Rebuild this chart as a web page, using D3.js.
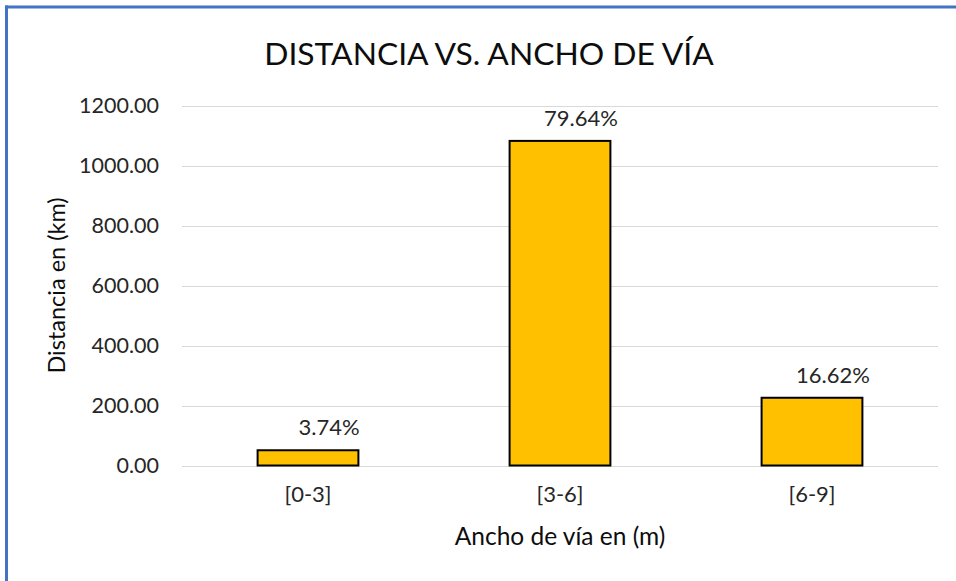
<!DOCTYPE html>
<html>
<head>
<meta charset="utf-8">
<script src="https://cdn.jsdelivr.net/npm/d3@7"></script>
<style>
  html, body { margin: 0; padding: 0; background: #fff; }
  svg { display: block; }
  text { font-family: Lato, "Open Sans", sans-serif; }
</style>
</head>
<body>
<svg id="chart" width="956" height="581"></svg>
<script>
const categories = ["[0-3]", "[3-6]", "[6-9]"];
const distances = [50.8, 1082, 225.8];
const percentLabels = ["3.74%", "79.64%", "16.62%"];
const yTicks = [0, 200, 400, 600, 800, 1000, 1200];
const titleText = "DISTANCIA VS. ANCHO DE VÍA";
const xTitle = "Ancho de vía en (m)";
const yTitle = "Distancia en (km)";

const svg = d3.select("#chart");
const W = 956, H = 581;
const plot = { left: 182, right: 938, top: 105.5, bottom: 465.5 };

// frame (top and left border visible)
svg.append("rect").attr("x", 0).attr("y", 0).attr("width", W).attr("height", H).attr("fill", "#fff");
svg.append("line").attr("x1", 5).attr("x2", W).attr("y1", 7).attr("y2", 7)
  .attr("stroke", "#4472C4").attr("stroke-width", 3);
svg.append("line").attr("x1", 6.5).attr("x2", 6.5).attr("y1", 5.5).attr("y2", H)
  .attr("stroke", "#4472C4").attr("stroke-width", 3);

const x = d3.scaleBand().domain(categories).range([plot.left, plot.right])
  .paddingInner(0.6).paddingOuter(0.3);
const y = d3.scaleLinear().domain([0, 1200]).range([plot.bottom, plot.top]);

// gridlines
svg.append("g").selectAll("line").data(yTicks).join("line")
  .attr("x1", plot.left).attr("x2", plot.right)
  .attr("y1", d => Math.round(y(d)) + 0.5).attr("y2", d => Math.round(y(d)) + 0.5)
  .attr("stroke", "#d9d9d9").attr("stroke-width", 1.2);

// y axis labels
const yAxis = d3.axisLeft(y).tickValues(yTicks).tickFormat(d3.format(".2f")).tickSize(0).tickPadding(23);
const gy = svg.append("g").attr("transform", `translate(${plot.left},0)`).call(yAxis);
gy.select(".domain").remove();
gy.selectAll("text").attr("font-family", "Lato").attr("font-size", 21.5).attr("fill", "#262626");

// bars
svg.append("g").selectAll("rect").data(categories).join("rect")
  .attr("x", d => x(d)).attr("width", x.bandwidth())
  .attr("y", (d, i) => y(distances[i]))
  .attr("height", (d, i) => y(0) - y(distances[i]))
  .attr("fill", "#FFC000").attr("stroke", "#000").attr("stroke-width", 2);

// value labels
svg.append("g").selectAll("text").data(categories).join("text")
  .attr("x", d => x(d) + x.bandwidth() / 2 + 21)
  .attr("y", (d, i) => y(distances[i]) - 15)
  .attr("text-anchor", "middle").attr("font-size", 22).attr("fill", "#262626")
  .text((d, i) => percentLabels[i]);

// x axis labels
const xAxis = d3.axisBottom(x).tickSize(0).tickPadding(21);
const gx = svg.append("g").attr("transform", `translate(0,${plot.bottom})`).call(xAxis);
gx.select(".domain").remove();
gx.selectAll("text").attr("font-family", "Lato").attr("font-size", 22).attr("fill", "#262626");

// titles
svg.append("text").attr("x", 489).attr("y", 65).attr("text-anchor", "middle")
  .attr("font-size", 31.8).attr("fill", "#0d0d0d").text(titleText);
svg.append("text").attr("x", (plot.left + plot.right) / 2).attr("y", 545)
  .attr("text-anchor", "middle").attr("font-size", 24.5).attr("fill", "#0d0d0d").text(xTitle);
svg.append("text").attr("transform", `translate(65,${(plot.top + plot.bottom) / 2}) rotate(-90)`)
  .attr("text-anchor", "middle").attr("font-size", 23.5).attr("fill", "#0d0d0d").text(yTitle);
</script>
</body>
</html>
